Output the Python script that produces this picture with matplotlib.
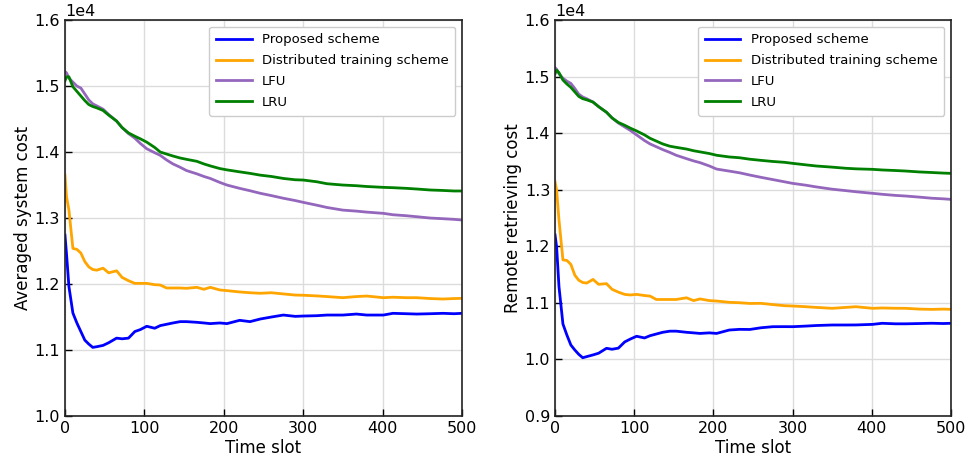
import numpy as np
import matplotlib
matplotlib.use('Agg')
import matplotlib.pyplot as plt

# ==== DADOS (valores em unidades de 1e4) ====
t = [0, 2, 5, 10, 15, 20, 25, 30, 35, 40, 48, 55, 65, 72, 80, 88, 95, 103, 113, 120,
     128, 136, 145, 153, 166, 175, 183, 195, 204, 220, 233, 246, 260, 275, 290, 300,
     317, 330, 350, 367, 380, 401, 413, 430, 443, 460, 476, 490, 500]

# custo medio do sistema
sys_proposed = [1.274, 1.245, 1.196, 1.156, 1.141, 1.128, 1.115, 1.109, 1.104, 1.105, 1.107, 1.111,
                1.118, 1.117, 1.118, 1.128, 1.131, 1.136, 1.133, 1.137, 1.139, 1.141, 1.143, 1.143,
                1.142, 1.141, 1.140, 1.141, 1.140, 1.145, 1.143, 1.147, 1.150, 1.153, 1.151, 1.1515,
                1.152, 1.153, 1.153, 1.1545, 1.153, 1.153, 1.1556, 1.155, 1.1545, 1.155, 1.1556, 1.155, 1.1556]
sys_distributed = [1.365, 1.332, 1.312, 1.254, 1.2525, 1.247, 1.234, 1.226, 1.222, 1.221, 1.224, 1.217,
                   1.220, 1.210, 1.205, 1.201, 1.201, 1.201, 1.199, 1.1985, 1.194, 1.194, 1.194, 1.1935,
                   1.195, 1.192, 1.195, 1.191, 1.190, 1.188, 1.1868, 1.186, 1.1868, 1.185, 1.1833, 1.183,
                   1.182, 1.181, 1.1793, 1.181, 1.1818, 1.1793, 1.180, 1.1793, 1.1793, 1.178, 1.1773, 1.178, 1.1783]
sys_lfu = [1.522, 1.520, 1.512, 1.506, 1.500, 1.497, 1.488, 1.479, 1.473, 1.470, 1.465, 1.457,
           1.447, 1.437, 1.428, 1.421, 1.413, 1.405, 1.399, 1.395, 1.388, 1.382, 1.377, 1.372,
           1.367, 1.363, 1.360, 1.354, 1.350, 1.345, 1.3414, 1.3375, 1.334, 1.330, 1.3265, 1.3238,
           1.3195, 1.316, 1.312, 1.3105, 1.309, 1.3071, 1.305, 1.3035, 1.302, 1.300, 1.299, 1.298, 1.297]
sys_lru = [1.508, 1.514, 1.514, 1.499, 1.492, 1.485, 1.478, 1.472, 1.469, 1.467, 1.463, 1.456,
           1.447, 1.437, 1.429, 1.424, 1.420, 1.415, 1.407, 1.400, 1.397, 1.394, 1.391, 1.389,
           1.386, 1.382, 1.379, 1.375, 1.373, 1.370, 1.3677, 1.365, 1.363, 1.360, 1.358, 1.3576,
           1.355, 1.352, 1.350, 1.349, 1.3478, 1.3465, 1.346, 1.345, 1.344, 1.3425, 1.3418, 1.341, 1.341]

# custo de recuperacao remota
rem_proposed = [1.220, 1.199, 1.1286, 1.0626, 1.043, 1.0255, 1.0167, 1.009, 1.003, 1.005, 1.008, 1.011,
                1.0197, 1.018, 1.020, 1.031, 1.036, 1.041, 1.038, 1.042, 1.045, 1.048, 1.050, 1.050,
                1.048, 1.047, 1.046, 1.047, 1.046, 1.052, 1.0532, 1.053, 1.056, 1.0579, 1.058, 1.0579,
                1.059, 1.060, 1.0609, 1.0609, 1.061, 1.062, 1.0639, 1.063, 1.063, 1.0635, 1.064, 1.0635, 1.0639]
rem_distributed = [1.314, 1.2995, 1.2465, 1.176, 1.175, 1.168, 1.149, 1.140, 1.136, 1.135, 1.1415, 1.1328,
                   1.134, 1.124, 1.119, 1.115, 1.114, 1.115, 1.113, 1.112, 1.106, 1.106, 1.106, 1.106,
                   1.109, 1.104, 1.107, 1.104, 1.1033, 1.101, 1.1003, 1.099, 1.0992, 1.097, 1.095, 1.0945,
                   1.0932, 1.092, 1.0904, 1.092, 1.0932, 1.0904, 1.091, 1.0905, 1.0904, 1.089, 1.0885, 1.089, 1.0886]
rem_lfu = [1.516, 1.513, 1.505, 1.497, 1.492, 1.488, 1.479, 1.469, 1.464, 1.461, 1.455, 1.447,
           1.437, 1.427, 1.418, 1.411, 1.405, 1.397, 1.387, 1.381, 1.376, 1.371, 1.366, 1.361,
           1.355, 1.351, 1.348, 1.342, 1.3366, 1.333, 1.330, 1.326, 1.322, 1.318, 1.314, 1.3113,
           1.308, 1.305, 1.301, 1.2985, 1.2965, 1.2937, 1.292, 1.290, 1.2889, 1.287, 1.285, 1.284, 1.283]
rem_lru = [1.505, 1.5116, 1.507, 1.494, 1.487, 1.481, 1.473, 1.465, 1.461, 1.459, 1.455, 1.447,
           1.437, 1.427, 1.419, 1.414, 1.409, 1.404, 1.397, 1.391, 1.386, 1.381, 1.377, 1.375,
           1.372, 1.369, 1.367, 1.364, 1.361, 1.358, 1.3566, 1.354, 1.352, 1.350, 1.3485, 1.3467,
           1.344, 1.342, 1.340, 1.338, 1.337, 1.3361, 1.335, 1.334, 1.3331, 1.3315, 1.3305, 1.3295, 1.329]

nomes = ['Proposed scheme', 'Distributed training scheme', 'LFU', 'LRU']
cores = ['blue', 'orange', '#9467bd', 'green']

paineis = [
    ('Averaged system cost', [sys_proposed, sys_distributed, sys_lfu, sys_lru], (1.0, 1.6)),
    ('Remote retrieving cost', [rem_proposed, rem_distributed, rem_lfu, rem_lru], (0.9, 1.6)),
]

# ==== PLOTAGEM ====
fig = plt.figure(figsize=(9.71, 4.67), dpi=100)
posicoes = [[0.0669, 0.1092, 0.4089, 0.8478], [0.5716, 0.1092, 0.4078, 0.8478]]

for pos, (ylabel, series, (ymin, ymax)) in zip(posicoes, paineis):
    ax = fig.add_axes(pos)
    for s, nome, cor in zip(series, nomes, cores):
        ax.plot(t, np.array(s) * 1e4, color=cor, lw=2, label=nome)
    ax.set_xlim(0, 500)
    ax.set_ylim(ymin * 1e4, ymax * 1e4)
    ax.set_xticks(np.arange(0, 501, 100))
    ax.set_yticks(np.arange(ymin, ymax + 0.001, 0.1) * 1e4)
    ax.ticklabel_format(style='sci', axis='y', scilimits=(0, 0))
    ax.yaxis.get_offset_text().set_fontsize(11.5)
    ax.tick_params(direction='in', labelsize=11.5, length=5, width=1)
    ax.grid(True, color='#dcdcdc', lw=1)
    ax.set_axisbelow(True)
    ax.set_xlabel('Time slot', fontsize=12, labelpad=2)
    ax.set_ylabel(ylabel, fontsize=12, labelpad=2)
    for sp in ax.spines.values():
        sp.set_linewidth(1.2)
        sp.set_color('#222222')
    ax.legend(loc='upper right', fontsize=9.5, handlelength=2.7, borderpad=0.5,
              labelspacing=0.6, framealpha=1, edgecolor='#cccccc')

fig.savefig('out.png', dpi=100)
